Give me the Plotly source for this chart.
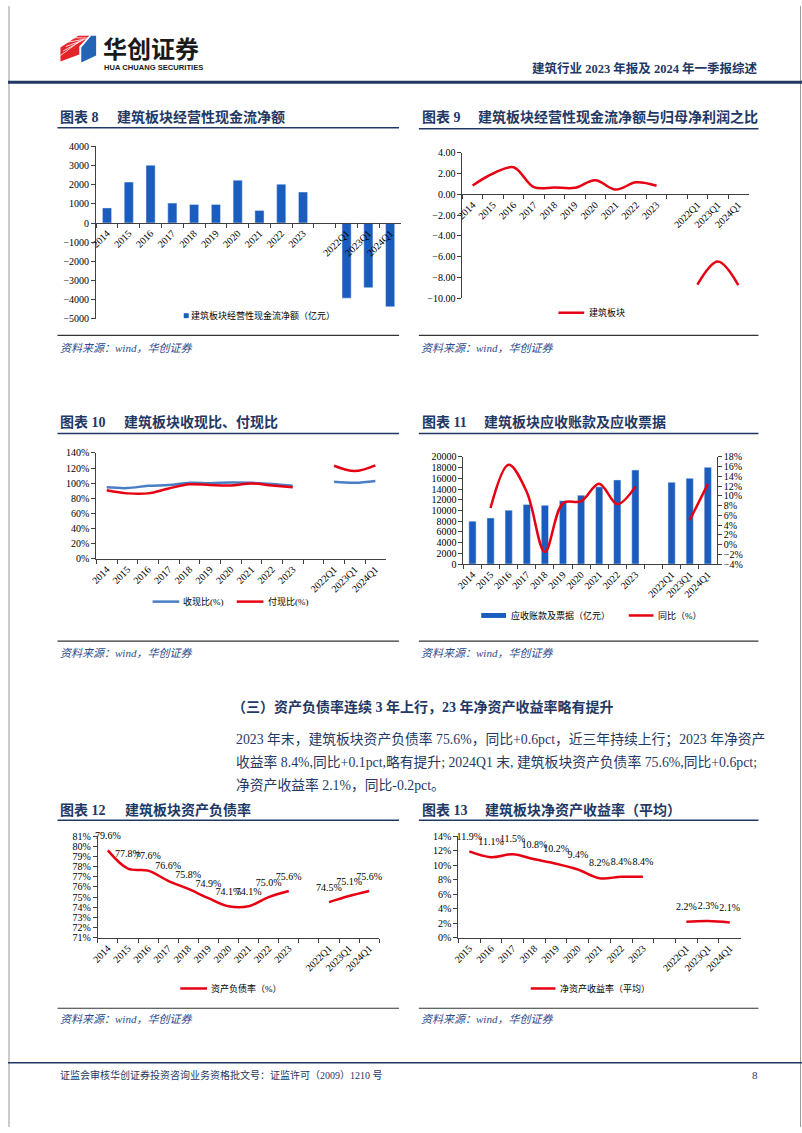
import plotly.graph_objects as go

W, H = 802, 1133
def X(x): return x / W
def Y(y): return 1 - y / H

# ---------------- data ----------------
years_a = ['2014', '2015', '2016', '2017', '2018', '2019', '2020', '2021', '2022', '2023']
years_b = ['2015', '2016', '2017', '2018', '2019', '2020', '2021', '2022', '2023']
gap = [' ']
quarters = ['2022Q1', '2023Q1', '2024Q1']
cats_a = years_a + gap + quarters
cats_b = years_b + gap + quarters

cash_flow = [790, 2140, 3020, 1040, 970, 970, 2240, 660, 2030, 1620, None, -3930, -3380, -4380]
cf_ratio = [0.85, 2.0, 2.6, 0.68, 0.66, 0.62, 1.35, 0.45, 1.15, 0.82, None, -8.70, -6.48, -8.75]
recv_ratio = [94.5, 93.5, 96.5, 97.5, 100.5, 100.0, 101.0, 100.5, 99.0, 96.5, None, 102.0, 100.5, 103.0]
pay_ratio = [90.5, 86.5, 86.5, 93.0, 98.5, 97.5, 97.0, 99.5, 97.0, 94.5, None, 123.0, 116.0, 123.5]
receivables = [8000, 8600, 10050, 11100, 10950, 11800, 12850, 14400, 15700, 17550, None, 15250, 16000, 18050]
recv_yoy = [None, 7.5, 16.4, 10.8, -1.5, 8.5, 8.9, 12.5, 8.3, 11.9, None, None, 5.0, 12.4]
debt_ratio = [79.6, 77.8, 77.6, 76.6, 75.8, 74.9, 74.1, 74.1, 75.0, 75.6, None, 74.5, 75.1, 75.6]
roe = [11.9, 11.1, 11.5, 10.8, 10.2, 9.4, 8.2, 8.4, 8.4, None, 2.2, 2.3, 2.1]

# ---------------- styles ----------------
NAVY = '#1F3864'
BAR = '#1B5DBE'
RED = '#E60012'
BLUE_L = '#4A7EC4'
AX = '#404040'
SERIF = 'Liberation Serif, Noto Sans CJK SC'
tickfont = dict(family=SERIF, size=10, color='#000')

fig = go.Figure()

def xax(x0, x1, cats, anchor=None, position=None):
    d = dict(domain=[X(x0), X(x1)], type='category', categoryorder='array', categoryarray=cats,
             range=[-0.5, len(cats) - 0.5],
             showline=True, linecolor=AX, linewidth=1, ticks='outside', ticklen=4, tickcolor=AX,
             tickson='boundaries', tickangle=-45, tickfont=tickfont, showgrid=False, zeroline=False,
             fixedrange=True)
    if position is not None:
        d.update(anchor='free', position=position)
    else:
        d.update(anchor=anchor)
    return d

def yax(y_top, y_bot, rng, dtick, anchor, fmt=None, suffix='', side='left', overlaying=None):
    d = dict(domain=[Y(y_bot), Y(y_top)], range=rng, dtick=dtick, tick0=rng[0], anchor=anchor,
             showline=True, linecolor=AX, linewidth=1, ticks='outside', ticklen=4, tickcolor=AX,
             tickfont=tickfont, showgrid=False, zeroline=False, ticksuffix=suffix, side=side,
             fixedrange=True)
    if fmt:
        d['tickformat'] = fmt
    if overlaying:
        d['overlaying'] = overlaying
    return d

# plot-area geometry (pixels)
C12_TOP, C12_BOT = 839, 941.7
C13_TOP, C13_BOT = 839, 941.7
C12_RNG = [71, 81]
C13_RNG = [0, 14]

layout = {}
# Chart 8
layout['xaxis'] = xax(89, 397, cats_a, position=Y(219))
layout['yaxis'] = yax(142, 316, [-5000, 4000], 1000, 'x', fmt='d')
# Chart 9
layout['xaxis2'] = xax(459, 748, cats_a, position=Y(190.3))
layout['yaxis2'] = yax(148.3, 295.3, [-10, 4], 2, 'x2', fmt='.2f')
# Chart 10
layout['xaxis3'] = xax(89.3, 381.5, cats_a, anchor='y3')
layout['yaxis3'] = yax(451.7, 558.7, [0, 140], 20, 'x3', suffix='%')
# Chart 11
layout['xaxis4'] = xax(460, 716, cats_a, anchor='y4')
layout['yaxis4'] = yax(455.7, 564, [0, 20000], 2000, 'x4', fmt='d')
layout['yaxis5'] = yax(455.7, 564, [-4, 18], 2, 'x4', suffix='%', side='right', overlaying='y4')
# Chart 12
layout['xaxis6'] = xax(90.7, 375, cats_a, anchor='y6')
layout['yaxis6'] = yax(C12_TOP, C12_BOT, C12_RNG, 1, 'x6', suffix='%')
# Chart 13
layout['xaxis7'] = xax(455, 740, cats_b, anchor='y7')
layout['yaxis7'] = yax(C13_TOP, C13_BOT, C13_RNG, 2, 'x7', suffix='%')

# ---------------- traces ----------------
fig.add_trace(go.Bar(x=cats_a, y=cash_flow, marker_color=BAR, width=0.42, xaxis='x', yaxis='y',
                     showlegend=False))
fig.add_trace(go.Scatter(x=cats_a, y=cf_ratio, mode='lines', line=dict(color=RED, width=2.5, shape='spline'),
                         xaxis='x2', yaxis='y2', showlegend=False, connectgaps=False))
fig.add_trace(go.Scatter(x=cats_a, y=recv_ratio, mode='lines', line=dict(color=BLUE_L, width=2.5, shape='spline'),
                         xaxis='x3', yaxis='y3', showlegend=False, connectgaps=False))
fig.add_trace(go.Scatter(x=cats_a, y=pay_ratio, mode='lines', line=dict(color=RED, width=2.5, shape='spline'),
                         xaxis='x3', yaxis='y3', showlegend=False, connectgaps=False))
fig.add_trace(go.Bar(x=cats_a, y=receivables, marker_color=BAR, width=0.4, xaxis='x4', yaxis='y4',
                     showlegend=False))
fig.add_trace(go.Scatter(x=cats_a, y=recv_yoy, mode='lines', line=dict(color=RED, width=2.5, shape='spline'),
                         xaxis='x4', yaxis='y5', showlegend=False, connectgaps=False))

# data labels lifted ~14 px above each point (converted to data units)
lift12 = 14 * (C12_RNG[1] - C12_RNG[0]) / (C12_BOT - C12_TOP)
lift13 = 14.5 * (C13_RNG[1] - C13_RNG[0]) / (C13_BOT - C13_TOP)
lblfont = dict(family=SERIF, size=10, color='#000')

fig.add_trace(go.Scatter(x=cats_a, y=debt_ratio, mode='lines', line=dict(color=RED, width=2.5, shape='spline'),
                         xaxis='x6', yaxis='y6', showlegend=False, connectgaps=False))
fig.add_trace(go.Scatter(x=cats_a, y=[v + lift12 if v is not None else None for v in debt_ratio],
                         mode='text', text=[f'{v:.1f}%' if v is not None else '' for v in debt_ratio],
                         textposition='middle center', textfont=lblfont, cliponaxis=False,
                         xaxis='x6', yaxis='y6', showlegend=False, hoverinfo='skip'))
fig.add_trace(go.Scatter(x=cats_b, y=roe, mode='lines', line=dict(color=RED, width=2.5, shape='spline'),
                         xaxis='x7', yaxis='y7', showlegend=False, connectgaps=False))
fig.add_trace(go.Scatter(x=cats_b, y=[v + lift13 if v is not None else None for v in roe],
                         mode='text', text=[f'{v:.1f}%' if v is not None else '' for v in roe],
                         textposition='middle center', textfont=lblfont, cliponaxis=False,
                         xaxis='x7', yaxis='y7', showlegend=False, hoverinfo='skip'))

shapes = []
ann = []

def hline(x0, x1, y, color, width):
    shapes.append(dict(type='line', xref='paper', yref='paper', x0=X(x0), x1=X(x1), y0=Y(y), y1=Y(y),
                       line=dict(color=color, width=width)))

def rect(x0, x1, y0, y1, color):
    shapes.append(dict(type='rect', xref='paper', yref='paper', x0=X(x0), x1=X(x1), y0=Y(y1), y1=Y(y0),
                       line=dict(width=0), fillcolor=color))

def text(x, y, s, size=10, color='#000', family=SERIF, bold=False, italic=False, xanchor='left'):
    f = dict(family=family, size=size, color=color)
    if bold:
        f['weight'] = 'bold'
    if italic:
        f['style'] = 'italic'
    ann.append(dict(x=X(x), y=Y(y), xref='paper', yref='paper', text=s, showarrow=False,
                    xanchor=xanchor, yanchor='middle', font=f))

def poly(pts, color):
    p = 'M ' + ' L '.join(f'{X(a):.5f},{Y(b):.5f}' for a, b in pts) + ' Z'
    shapes.append(dict(type='path', xref='paper', yref='paper', path=p, fillcolor=color, line=dict(width=0)))

# page border
shapes.append(dict(type='line', xref='paper', yref='paper', x0=X(1), x1=X(1), y0=0, y1=1,
                   line=dict(color='#9a9a9a', width=1)))
shapes.append(dict(type='line', xref='paper', yref='paper', x0=X(800.5), x1=X(800.5), y0=0, y1=1,
                   line=dict(color='#9a9a9a', width=1)))

# header logo
poly([(53, 42), (71, 30), (82, 30), (72, 41), (72, 49), (53, 56)], '#E4232B')
poly([(74, 42), (84, 30), (89, 30), (89, 50), (74, 57)], '#2563B5')
for k in range(5):
    off = k * 4.5
    shapes.append(dict(type='line', xref='paper', yref='paper', x0=X(53 + off * 0.6), y0=Y(50 - off),
                       x1=X(72 + off * 0.5), y1=Y(36 - off * 0.2), line=dict(color='white', width=0.8)))
text(94, 41.5, '华创证券', size=24, color='#1a1a1a', family='Noto Sans CJK SC', bold=True)
text(95, 62, 'HUA CHUANG SECURITIES', size=7.6, color='#1a1a1a', family='Liberation Sans', bold=True)
text(760, 63, '建筑行业 2023 年报及 2024 年一季报综述', size=12.5, color=NAVY, bold=True, xanchor='right')
hline(0, 802, 77, NAVY, 3)

# chart titles
titles = [
    (50, 108, 111.7, '图表 8', '建筑板块经营性现金流净额', 123, 50, 395),
    (416, 473, 112.3, '图表 9', '建筑板块经营性现金流净额与归母净利润之比', 124, 415, 758),
    (50, 115, 420, '图表 10', '建筑板块收现比、付现比', 432, 50, 395),
    (416, 479, 420.7, '图表 11', '建筑板块应收账款及应收票据', 432, 415, 758),
    (50, 116, 812.7, '图表 12', '建筑板块资产负债率', 823, 50, 395),
    (416, 480, 813, '图表 13', '建筑板块净资产收益率（平均）', 823, 415, 758),
]
for xa, xb, yy, a, b, ly, l0, l1 in titles:
    text(xa, yy, a, size=14, color=NAVY, bold=True)
    text(xb, yy, b, size=14, color=NAVY, bold=True)
    hline(l0, l1, ly, NAVY, 1.5)

# sources
for yline, ytxt in [(333, 346), (642, 654), (1013, 1024)]:
    hline(50, 395, yline, '#333333', 1.2)
    hline(415, 758, yline, '#333333', 1.2)
    text(50, ytxt, '资料来源：wind，华创证券', size=11, color='#2E4C8C', italic=True)
    text(415, ytxt, '资料来源：wind，华创证券', size=11, color='#2E4C8C', italic=True)

# legends
LF = 9
rect(177.5, 182.5, 310.5, 315.5, BAR)
text(183, 313, '建筑板块经营性现金流净额（亿元）', size=LF)
hline(556, 582, 310, RED, 2.5)
text(585, 310, '建筑板块', size=LF)
hline(146, 173, 602, BLUE_L, 2.5)
text(175, 602, '收现比(%)', size=LF)
hline(231, 258, 602, RED, 2.5)
text(261, 602, '付现比(%)', size=LF)
rect(478, 503, 613.5, 618.5, BAR)
text(506, 616, '应收账款及票据（亿元）', size=LF)
hline(627, 652, 616, RED, 2.5)
text(655, 616, '同比（%）', size=LF)
hline(174, 201, 993, RED, 2.5)
text(203, 993, '资产负债率（%）', size=LF)
hline(528, 553, 993, RED, 2.5)
text(556, 993, '净资产收益率（平均）', size=LF)

# section heading and paragraph
text(224, 709, '（三）资产负债率连续 3 年上行，23 年净资产收益率略有提升', size=14, color=NAVY, bold=True)
para = [
    '2023 年末，建筑板块资产负债率 75.6%，同比+0.6pct，近三年持续上行；2023 年净资产',
    '收益率 8.4%,同比+0.1pct,略有提升; 2024Q1 末, 建筑板块资产负债率 75.6%,同比+0.6pct;',
    '净资产收益率 2.1%，同比-0.2pct。',
]
for i, s in enumerate(para):
    text(228, 741 + i * 23, s, size=13.8, color=NAVY)

# footer
hline(0, 802, 1068, NAVY, 1.5)
text(50, 1080, '证监会审核华创证券投资咨询业务资格批文号：证监许可（2009）1210 号', size=10, color=NAVY)
text(760, 1080, '8', size=11, color=NAVY, xanchor='right')

fig.update_layout(**layout)
fig.update_layout(width=W, height=H, margin=dict(l=0, r=0, t=0, b=0), autosize=False,
                  paper_bgcolor='white', plot_bgcolor='white', shapes=shapes, annotations=ann,
                  showlegend=False, bargap=0.5)

fig.write_html('out.html', config={'displayModeBar': False},
               post_script="document.body.style.margin='0px';document.body.style.overflow='hidden';")
